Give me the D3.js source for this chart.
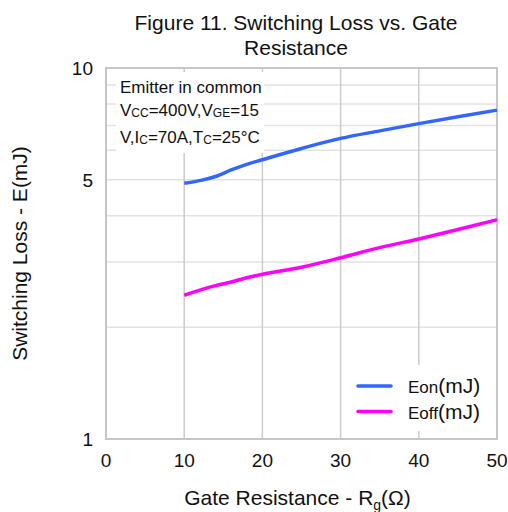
<!DOCTYPE html>
<html>
<head>
<meta charset="utf-8">
<script src="https://cdn.jsdelivr.net/npm/d3@7"></script>
<style>
  body { margin: 0; background: #fff; }
  text { font-family: "Liberation Sans", Arial, sans-serif; fill: #111; }
</style>
</head>
<body>
<div id="container"></div>
<script>
/***** data *****/
const rg = [10, 12, 14, 16, 18, 20, 25, 30, 35, 40, 45, 50];
const eon = [4.89, 4.97, 5.10, 5.31, 5.50, 5.66, 6.07, 6.46, 6.77, 7.08, 7.39, 7.70];
const eoff = [2.44, 2.52, 2.59, 2.65, 2.72, 2.78, 2.905, 3.08, 3.28, 3.46, 3.67, 3.90];
const xTicks = [0, 10, 20, 30, 40, 50];
const yTicks = [1, 5, 10];
const yGrid = [2, 3, 4, 5, 6, 7, 8, 9];

/***** chart *****/
const W = 508, H = 512;
const margin = {top: 68, right: 11, bottom: 73, left: 106};
const width = W - margin.left - margin.right,
      height = H - margin.top - margin.bottom;

const svg = d3.select("#container").append("svg")
    .attr("width", W).attr("height", H);

const viz = svg.append("g")
    .attr("transform", "translate(" + margin.left + "," + margin.top + ")");

const x = d3.scaleLinear().domain([0, 50]).range([0, width]);
const y = d3.scaleLog().domain([1, 10]).range([height, 0]);

// grid
viz.selectAll(".hg").data(yGrid).enter().append("line")
    .attr("x1", 0).attr("x2", width)
    .attr("y1", d => y(d)).attr("y2", d => y(d))
    .attr("stroke", "#e2e2e2").attr("stroke-width", 1.5);
viz.selectAll(".vg").data(xTicks.slice(1, -1)).enter().append("line")
    .attr("x1", d => x(d)).attr("x2", d => x(d))
    .attr("y1", 0).attr("y2", height)
    .attr("stroke", "#cccccc").attr("stroke-width", 1.5);

// frame
viz.append("rect")
    .attr("width", width).attr("height", height)
    .attr("fill", "none").attr("stroke", "#c6c6c6").attr("stroke-width", 2);

// Y ticks
viz.selectAll(".yt").data(yTicks).enter().append("text")
    .attr("x", -13).attr("y", d => y(d)).attr("dy", "0.36em")
    .attr("text-anchor", "end").style("font-size", "19px")
    .text(d => d);

// X ticks
viz.selectAll(".xt").data(xTicks).enter().append("text")
    .attr("x", d => x(d)).attr("y", height + 28)
    .attr("text-anchor", "middle").style("font-size", "19px")
    .text(d => d);

// lines
const line = d3.line()
    .x(d => x(d[0])).y(d => y(d[1]))
    .curve(d3.curveMonotoneX);

viz.append("path").datum(d3.zip(rg, eoff))
    .attr("fill", "none").attr("stroke", "#ff00ff").attr("stroke-width", 3.5)
    .attr("d", line);
viz.append("path").datum(d3.zip(rg, eon))
    .attr("fill", "none").attr("stroke", "#3366ff").attr("stroke-width", 3.5)
    .attr("d", line);

// condition box
viz.append("rect").attr("x", 10).attr("y", 4).attr("width", 148).attr("height", 81)
    .attr("fill", "#fff");
const note = viz.append("g").style("font-size", "17px");
note.append("text").attr("x", 14).attr("y", 25).text("Emitter in common");
const n2 = note.append("text").attr("x", 14).attr("y", 48);
n2.append("tspan").text("V");
n2.append("tspan").attr("dy", 1).style("font-size", "12px").text("CC");
n2.append("tspan").attr("dy", -1).text("=400V,V");
n2.append("tspan").attr("dy", 1).style("font-size", "12px").text("GE");
n2.append("tspan").attr("dy", -1).text("=15");
const n3 = note.append("text").attr("x", 14).attr("y", 75);
n3.append("tspan").text("V,I");
n3.append("tspan").attr("dy", 1).style("font-size", "12px").text("C");
n3.append("tspan").attr("dy", -1).text("=70A,T");
n3.append("tspan").attr("dy", 1).style("font-size", "12px").text("C");
n3.append("tspan").attr("dy", -1).text("=25°C");

// legend
viz.append("rect").attr("x", 238).attr("y", 297).attr("width", 150).attr("height", 66)
    .attr("fill", "#fff");
const leg = [["Eon", "#3366ff"], ["Eoff", "#ff00ff"]];
leg.forEach((l, i) => {
  const ly = 318 + i * 25.5;
  viz.append("line").attr("x1", 252).attr("x2", 285).attr("y1", ly).attr("y2", ly)
      .attr("stroke", l[1]).attr("stroke-width", 3.5).attr("stroke-linecap", "round");
  const t = viz.append("text").attr("x", 302).attr("y", ly + 7);
  t.append("tspan").style("font-size", "17px").text(l[0]);
  t.append("tspan").style("font-size", "21px").text("(mJ)");
});

// titles
svg.append("text").attr("x", 296).attr("y", 30).attr("text-anchor", "middle")
    .style("font-size", "21px").text("Figure 11. Switching Loss vs. Gate");
svg.append("text").attr("x", 296).attr("y", 55).attr("text-anchor", "middle")
    .style("font-size", "21px").text("Resistance");

const xt = svg.append("text").attr("x", margin.left + width / 2 - 4).attr("y", 505)
    .attr("text-anchor", "middle").style("font-size", "21px");
xt.append("tspan").text("Gate Resistance - R");
xt.append("tspan").attr("dy", 5).style("font-size", "14px").text("g");
xt.append("tspan").attr("dy", -5).text("(Ω)");

svg.append("text")
    .attr("transform", "translate(27," + (margin.top + height / 2) + ") rotate(-90)")
    .attr("text-anchor", "middle").style("font-size", "21px")
    .text("Switching Loss - E(mJ)");
</script>
</body>
</html>
